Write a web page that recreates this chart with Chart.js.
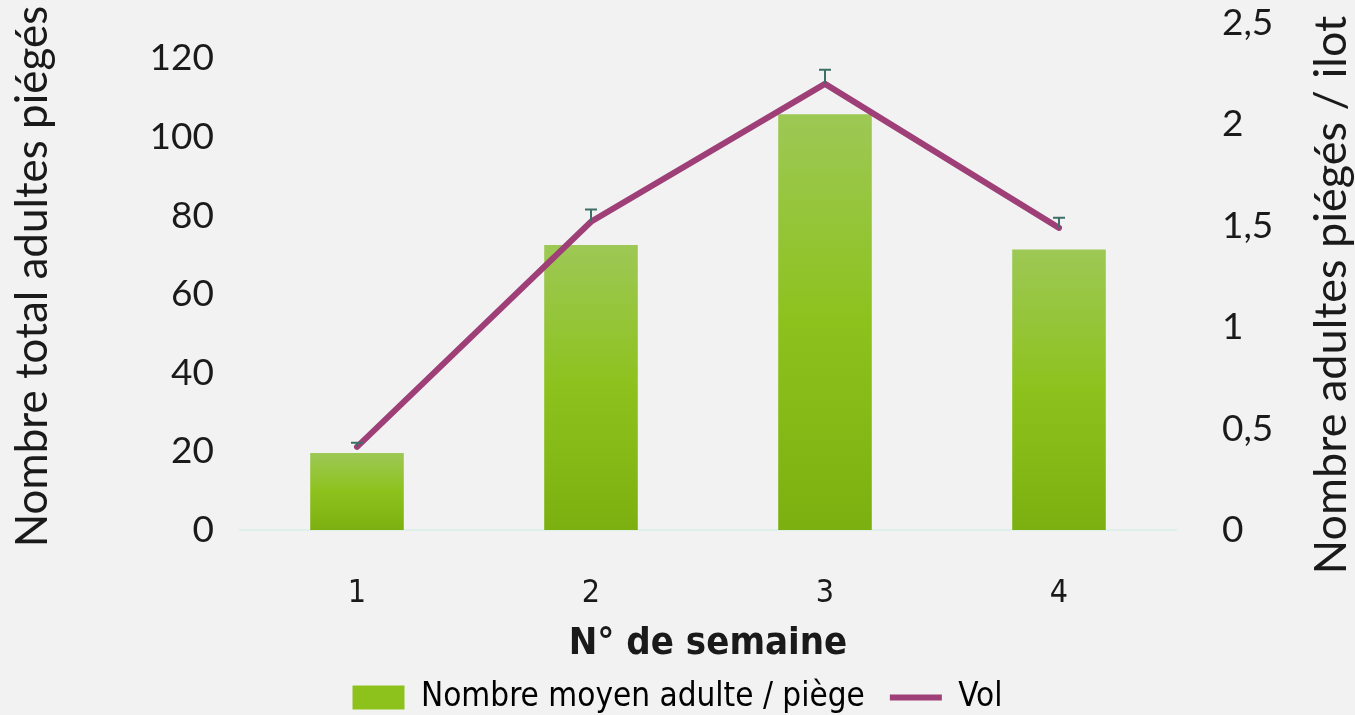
<!DOCTYPE html>
<html>
<head>
<meta charset="utf-8">
<script src="https://cdn.jsdelivr.net/npm/chart.js@4.4.1/dist/chart.umd.min.js"></script>
<style>
  html, body { margin: 0; padding: 0; background: #f2f2f2; }
  #wrap { width: 1355px; height: 715px; }
</style>
</head>
<body>
<div id="wrap"><canvas id="combo"></canvas></div>
<script>
// data
const weeks = ['1', '2', '3', '4'];
const moyenParPiege = [19.6, 72.5, 105.8, 71.4];   // left axis
const vol = [0.41, 1.52, 2.20, 1.49];              // right axis
const volErr = [0.02, 0.06, 0.07, 0.05];            // upper error only
const leftTicks = [0, 20, 40, 60, 80, 100, 120];
const rightTicks = [0, 0.5, 1, 1.5, 2, 2.5];

const tickFont = { family: 'Lato', size: 37 };
const condFont = 'DejaVu Sans Condensed';

// vertical gradient for each bar, from its top down to the base
function barGradient(context) {
    const chart = context.chart;
    const area = chart.chartArea;
    if (!area || context.parsed === undefined) return '#8dc21f';
    const yTop = chart.scales.y.getPixelForValue(context.parsed.y);
    const g = chart.ctx.createLinearGradient(0, yTop, 0, area.bottom);
    g.addColorStop(0, '#9dc855');
    g.addColorStop(0.5, '#8dc21d');
    g.addColorStop(1, '#7cb010');
    return g;
}

// error bars (upper part) on the "Vol" line
const errorBars = {
    id: 'errorBars',
    afterDatasetsDraw(chart) {
        const meta = chart.getDatasetMeta(1);
        const y1 = chart.scales.y1;
        const ctx = chart.ctx;
        ctx.save();
        ctx.strokeStyle = '#3d6f67';
        ctx.lineWidth = 2;
        meta.data.forEach((pt, i) => {
            const top = y1.getPixelForValue(vol[i] + volErr[i]);
            ctx.beginPath();
            ctx.moveTo(pt.x, pt.y);
            ctx.lineTo(pt.x, top);
            ctx.moveTo(pt.x - 6, top);
            ctx.lineTo(pt.x + 6, top);
            ctx.stroke();
        });
        ctx.restore();
    }
};

// right axis title reads bottom to top
const rightTitle = {
    id: 'rightTitle',
    afterDraw(chart) {
        const ctx = chart.ctx;
        ctx.save();
        ctx.translate(1331, 295);
        ctx.rotate(-Math.PI / 2);
        ctx.font = '45px Lato';
        ctx.fillStyle = '#1a1a1a';
        ctx.textAlign = 'center';
        ctx.textBaseline = 'middle';
        ctx.fillText('Nombre adultes piégés / ilot', 0, 0);
        ctx.restore();
    }
};

// keep the plot area where the picture has it
function noLabelPadding(scale) {
    scale.paddingTop = 0;
    scale.paddingBottom = 0;
}

const ctx = document.getElementById('combo').getContext('2d');
const myChart = new Chart(ctx, {
    type: 'bar',
    data: {
        labels: weeks,
        datasets: [{
            type: 'bar',
            label: 'Nombre moyen adulte / piège',
            data: moyenParPiege,
            yAxisID: 'y',
            backgroundColor: barGradient,
            borderWidth: 0,
            categoryPercentage: 0.8,
            barPercentage: 0.5,
            order: 2
        }, {
            type: 'line',
            label: 'Vol',
            data: vol,
            yAxisID: 'y1',
            borderColor: '#9e3f77',
            backgroundColor: '#9e3f77',
            borderWidth: 6,
            borderCapStyle: 'round',
            borderJoinStyle: 'miter',
            pointRadius: 0,
            tension: 0,
            order: 1
        }]
    },
    options: {
        responsive: true,
        maintainAspectRatio: false,
        animation: false,
        layout: { padding: { top: 23, left: 0, right: 0, bottom: -9 } },
        plugins: {
            tooltip: { enabled: false },
            legend: {
                position: 'bottom',
                labels: {
                    color: '#1a1a1a',
                    font: { family: condFont, size: 33 },
                    usePointStyle: true,
                    pointStyleWidth: 52,
                    boxHeight: 24,
                    padding: 25,
                    generateLabels(chart) {
                        return [
                            { text: 'Nombre moyen adulte / piège', fillStyle: '#8dc21d', strokeStyle: '#8dc21d', lineWidth: 0, pointStyle: 'rect', datasetIndex: 0 },
                            { text: 'Vol', fillStyle: '#9e3f77', strokeStyle: '#9e3f77', lineWidth: 6, pointStyle: 'line', datasetIndex: 1 }
                        ];
                    }
                }
            }
        },
        scales: {
            x: {
                afterFit(scale) { scale.height = 126; },
                grid: { display: false, drawTicks: false },
                border: { display: true, color: '#dff0ea', width: 2 },
                ticks: { color: '#1a1a1a', font: { family: condFont, size: 32 }, padding: 44 },
                title: {
                    display: true,
                    text: 'N° de semaine',
                    color: '#1a1a1a',
                    font: { family: condFont, size: 38, weight: 'bold' },
                    padding: { top: 0, bottom: -11 }
                }
            },
            y: {
                position: 'left',
                min: 0,
                max: 129,
                afterFit(scale) { scale.width = 240; noLabelPadding(scale); },
                afterBuildTicks(scale) { scale.ticks = leftTicks.map(v => ({ value: v })); },
                grid: { display: false, drawTicks: false },
                border: { display: false },
                ticks: { color: '#1a1a1a', font: tickFont, padding: 26 },
                title: {
                    display: true,
                    text: 'Nombre total adultes piégés',
                    color: '#1a1a1a',
                    font: { family: 'Lato', size: 44 },
                    padding: { top: 6, bottom: 0 }
                }
            },
            y1: {
                position: 'right',
                min: 0,
                max: 2.5,
                afterFit(scale) { scale.width = 179; noLabelPadding(scale); },
                afterBuildTicks(scale) { scale.ticks = rightTicks.map(v => ({ value: v })); },
                grid: { display: false, drawTicks: false },
                border: { display: false },
                ticks: {
                    color: '#1a1a1a',
                    font: tickFont,
                    padding: 46,
                    callback: v => String(v).replace('.', ',')
                }
            }
        }
    },
    plugins: [errorBars, rightTitle]
});
</script>
</body>
</html>
